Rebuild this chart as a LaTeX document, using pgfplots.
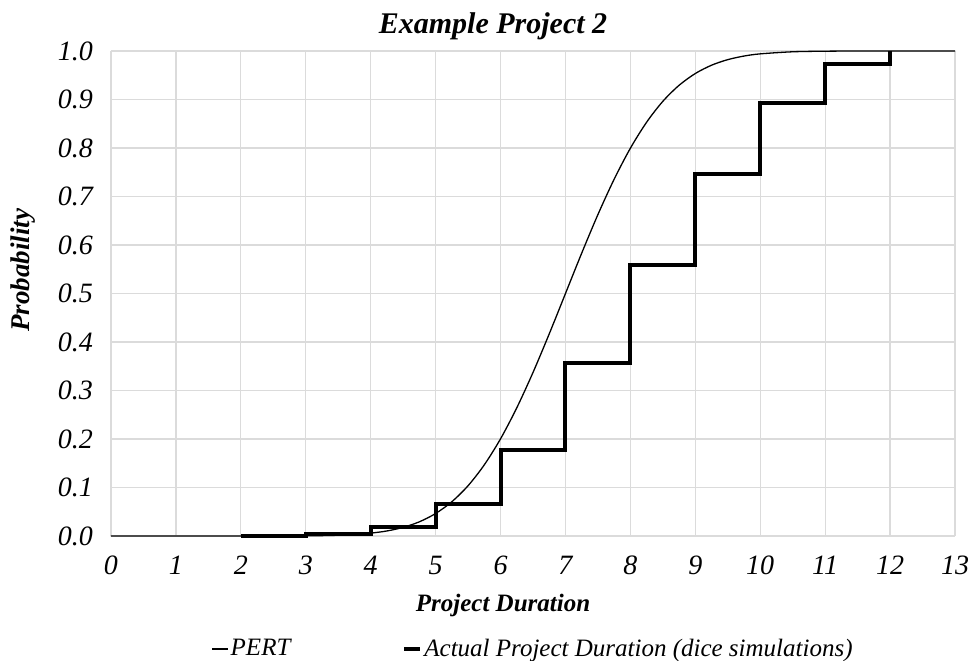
\documentclass[border=0pt]{standalone}
\usepackage{fontspec}
\setmainfont{Liberation Serif}
\usepackage{pgfplots}
\pgfplotsset{compat=1.18}

\begin{document}
\begin{tikzpicture}
\begin{axis}[
    scale only axis,
    width=422pt,
    height=242.5pt,
    xmin=0, xmax=13,
    ymin=0, ymax=1,
    xtick={0,1,...,13},
    ytick={0,0.1,...,1.0},
    grid=major,
    grid style={line width=0.6pt, color=black!14},
    axis line style={draw=none},
    tick style={draw=none},
    font=\fontsize{12.5}{15}\selectfont,
    /pgf/number format/assume math mode=true,
    ticklabel style={font=\fontsize{14}{16}\selectfont\itshape},
    yticklabel style={/pgf/number format/fixed, /pgf/number format/fixed zerofill,
        /pgf/number format/precision=1, xshift=-5.5pt},
    xticklabel style={yshift=-6.5pt},
    title={Example Project 2},
    title style={font=\fontsize{15}{18}\selectfont\bfseries\itshape, at={(0.4526,1)}, anchor=base, yshift=3pt, inner sep=0pt},
    xlabel={Project Duration},
    ylabel={Probability},
    label style={font=\fontsize{12.5}{15}\selectfont\bfseries\itshape},
    xlabel style={at={(0.4645,0)}, anchor=center, yshift=-34.5pt},
    ylabel style={at={(0,0.548)}, anchor=center, yshift=44pt, font=\fontsize{13.5}{16}\selectfont\bfseries\itshape},
    legend columns=2,
    legend style={draw=none, at={(0.5,0)}, anchor=center, yshift=-56.5pt,
        font=\fontsize{12.5}{15}\selectfont\itshape,
        /tikz/every even column/.append style={column sep=55pt},
        nodes={inner sep=1pt}},
    legend image code/.code={\draw[#1] (0pt,0pt) -- (8pt,0pt);},
    clip=false,
]
\coordinate (sw) at (rel axis cs:0,0);
\coordinate (ne) at (rel axis cs:1,1);

% PERT (normal approximation)
\addplot[black, line width=0.65pt, smooth] coordinates {
(0,0) (1,0) (2,0) (2.5,0.0001) (3,0.0004) (3.25,0.0008) (3.5,0.0016)
(3.75,0.0032) (4,0.0059) (4.25,0.0104) (4.5,0.0178) (4.75,0.0293)
(5,0.0464) (5.25,0.0707) (5.5,0.1037) (5.75,0.1468) (6,0.2004)
(6.25,0.2643) (6.5,0.3372) (6.75,0.4168) (7,0.5) (7.25,0.5832)
(7.5,0.6628) (7.75,0.7357) (8,0.7996) (8.25,0.8532) (8.5,0.8963)
(8.75,0.9293) (9,0.9536) (9.25,0.9707) (9.5,0.9822) (9.75,0.9896)
(10,0.9941) (10.5,0.9984) (11,0.9996) (11.5,1.0) (12,1.0) (13,1.0)
};
\addlegendentry{PERT}

% dice simulations
\addplot[black, line width=2pt, const plot] coordinates {
(2,0.001) (3,0.005) (4,0.019) (5,0.067) (6,0.177) (7,0.357)
(8,0.559) (9,0.746) (10,0.892) (11,0.974) (12,1.0)
};
\addlegendentry{Actual Project Duration (dice simulations)}
\end{axis}
\pgfresetboundingbox
\path ([shift={(-55.5pt,-62pt)}]sw) rectangle ([shift={(8.5pt,25.5pt)}]ne);
\end{tikzpicture}
\end{document}
